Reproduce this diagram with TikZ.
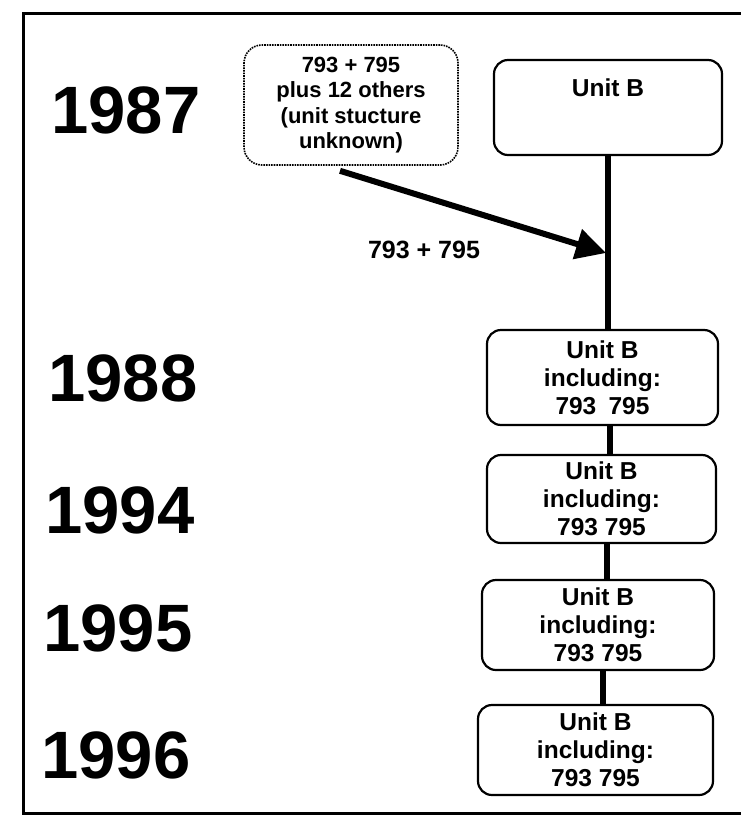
\documentclass[tikz,border=0pt]{standalone}
\usepackage{fontspec}
\setmainfont{Liberation Sans}
\usetikzlibrary{arrows.meta}
\begin{document}
\begin{tikzpicture}[x=1pt,y=-1pt,
  year/.style={font=\bfseries\fontsize{67}{67}\selectfont, anchor=center},
  unitbox/.style={draw, line width=2.2pt, rounded corners=14pt, align=center,
    font=\bfseries\fontsize{24.5}{28}\selectfont, inner sep=0pt},
  dashbox/.style={draw, line width=1.6pt, densely dotted, rounded corners=18pt, align=center,
    font=\bfseries\fontsize{22}{25.5}\selectfont, inner sep=0pt},
  link/.style={line width=6pt},
  lbl/.style={font=\bfseries\fontsize{25}{25}\selectfont}]
\useasboundingbox (0,0) rectangle (741,830);
% frame
\draw[line width=3pt] (745,13) -- (23,13) -- (23,813) -- (745,813);
% years
\node[year] (y87) at (126,110) {1987};
\node[year] (y88) at (123,378) {1988};
\node[year] (y94) at (120,510) {1994};
\node[year] (y95) at (118,628) {1995};
\node[year] (y96) at (116,755) {1996};
% boxes
\node[dashbox, minimum width=214pt, minimum height=120pt] (src) at (351,105)
  {793 + 795\\plus 12 others\\(unit stucture\\unknown)};
\node[unitbox, minimum width=228pt, minimum height=95pt,
  text height=18pt, text depth=40pt] (b87) at (608,107.5) {Unit B};
\node[unitbox, minimum width=231pt, minimum height=95pt] (b88) at (602.5,377.5)
  {Unit B\\including:\\793\enspace795};
\node[unitbox, minimum width=229pt, minimum height=88pt] (b94) at (601.5,499)
  {Unit B\\including:\\793 795};
\node[unitbox, minimum width=232pt, minimum height=90pt] (b95) at (598,625)
  {Unit B\\including:\\793 795};
\node[unitbox, minimum width=235pt, minimum height=90pt] (b96) at (595.5,750)
  {Unit B\\including:\\793 795};
% connectors
\draw[link] (b87.south) -- (b87.south |- b88.north);
\coordinate (hit) at (606,253);
\draw[link] ([xshift=7pt]b88.south) -- ([xshift=7pt]b88.south |- b94.north);
\draw[link] ([xshift=5pt]b94.south) -- ([xshift=5pt]b94.south |- b95.north);
\draw[link] ([xshift=5pt]b95.south) -- ([xshift=5pt]b95.south |- b96.north);
\draw[link, -{Triangle[length=30pt,width=30pt]}] ([xshift=-11pt,yshift=-5pt]src.south) -- (hit);
\node[lbl] (l1) at (424,250) {793 + 795};
\end{tikzpicture}
\end{document}
